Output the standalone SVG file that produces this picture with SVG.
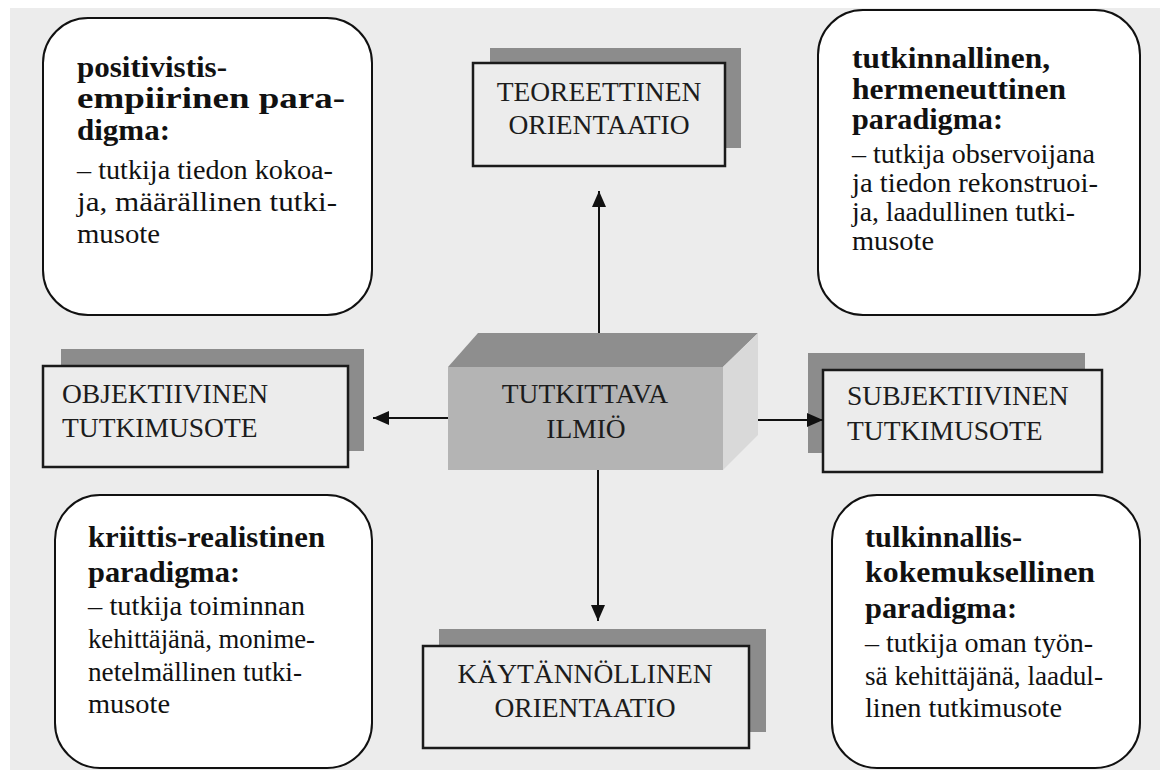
<svg xmlns="http://www.w3.org/2000/svg" width="1160" height="778" viewBox="0 0 1160 778">
<defs>
<marker id="ah" markerUnits="userSpaceOnUse" markerWidth="16" markerHeight="14" viewBox="0 0 16 14" refX="16" refY="7" orient="auto"><path d="M0,0 L16,7 L0,14 z" fill="#111"/></marker>
</defs>
<style>
.bg{fill:#ececec}
.para{fill:#fff;stroke:#111;stroke-width:2}
.shadow{fill:#8c8c8c}
.card{fill:#ececec;stroke:#1a1a1a;stroke-width:2.5}
.cap{font-family:'Liberation Serif','Times New Roman',serif;font-size:27.5px;fill:#1c1c1c}
.h{font-family:'Liberation Serif','Times New Roman',serif;font-weight:bold;font-size:29px;fill:#111}
.t{font-family:'Liberation Serif','Times New Roman',serif;font-size:27px;fill:#111}
.conn{stroke:#111;stroke-width:2;fill:none;marker-end:url(#ah)}
</style>
<rect x="0" y="0" width="1160" height="778" fill="#ffffff"/>
<rect class="bg" x="10" y="8" width="1150" height="762"/>

<g id="paradigm-positivist">
<rect class="para" x="43" y="18" width="329" height="297" rx="45"/>
<text class="h" x="77" y="77" textLength="150" lengthAdjust="spacingAndGlyphs">positivistis-</text>
<text class="h" x="77" y="108" textLength="268" lengthAdjust="spacingAndGlyphs">empiirinen para-</text>
<text class="h" x="77" y="140" textLength="93" lengthAdjust="spacingAndGlyphs">digma:</text>
<text class="t" x="77" y="179" textLength="256" lengthAdjust="spacingAndGlyphs">– tutkija tiedon kokoa-</text>
<text class="t" x="77" y="211" textLength="260" lengthAdjust="spacingAndGlyphs">ja, määrällinen tutki-</text>
<text class="t" x="77" y="243" textLength="83" lengthAdjust="spacingAndGlyphs">musote</text>
</g>

<g id="paradigm-hermeneutic">
<rect class="para" x="818" y="10" width="322" height="305" rx="45"/>
<text class="h" x="852" y="68" textLength="198" lengthAdjust="spacingAndGlyphs">tutkinnallinen,</text>
<text class="h" x="852" y="99" textLength="214" lengthAdjust="spacingAndGlyphs">hermeneuttinen</text>
<text class="h" x="852" y="129" textLength="151" lengthAdjust="spacingAndGlyphs">paradigma:</text>
<text class="t" x="852" y="163" textLength="243" lengthAdjust="spacingAndGlyphs">– tutkija observoijana</text>
<text class="t" x="852" y="192" textLength="246" lengthAdjust="spacingAndGlyphs">ja tiedon rekonstruoi-</text>
<text class="t" x="852" y="221" textLength="223" lengthAdjust="spacingAndGlyphs">ja, laadullinen tutki-</text>
<text class="t" x="852" y="250" textLength="82" lengthAdjust="spacingAndGlyphs">musote</text>
</g>

<g id="paradigm-critical">
<rect class="para" x="55" y="495" width="317" height="273" rx="45"/>
<text class="h" x="88" y="547" textLength="237" lengthAdjust="spacingAndGlyphs">kriittis-realistinen</text>
<text class="h" x="88" y="582" textLength="152" lengthAdjust="spacingAndGlyphs">paradigma:</text>
<text class="t" x="88" y="615" textLength="217" lengthAdjust="spacingAndGlyphs">– tutkija toiminnan</text>
<text class="t" x="88" y="648" textLength="227" lengthAdjust="spacingAndGlyphs">kehittäjänä, monime-</text>
<text class="t" x="88" y="681" textLength="214" lengthAdjust="spacingAndGlyphs">netelmällinen tutki-</text>
<text class="t" x="88" y="713" textLength="82" lengthAdjust="spacingAndGlyphs">musote</text>
</g>

<g id="paradigm-interpretive">
<rect class="para" x="832" y="495" width="308" height="273" rx="45"/>
<text class="h" x="865" y="547" textLength="157" lengthAdjust="spacingAndGlyphs">tulkinnallis-</text>
<text class="h" x="865" y="582" textLength="230" lengthAdjust="spacingAndGlyphs">kokemuksellinen</text>
<text class="h" x="865" y="618" textLength="152" lengthAdjust="spacingAndGlyphs">paradigma:</text>
<text class="t" x="865" y="652" textLength="228" lengthAdjust="spacingAndGlyphs">– tutkija oman työn-</text>
<text class="t" x="865" y="685" textLength="238" lengthAdjust="spacingAndGlyphs">sä kehittäjänä, laadul-</text>
<text class="t" x="865" y="717" textLength="197" lengthAdjust="spacingAndGlyphs">linen tutkimusote</text>
</g>

<g id="theoretical">
<rect class="shadow" x="490" y="48" width="251" height="100"/>
<rect class="card" x="473" y="63" width="252" height="103"/>
<text class="cap" x="599" y="101" text-anchor="middle">TEOREETTINEN</text>
<text class="cap" x="599" y="134" text-anchor="middle">ORIENTAATIO</text>
</g>

<g id="objective">
<rect class="shadow" x="61" y="349" width="303" height="102"/>
<rect class="card" x="43" y="366" width="305" height="101"/>
<text class="cap" x="62" y="403">OBJEKTIIVINEN</text>
<text class="cap" x="62" y="437">TUTKIMUSOTE</text>
</g>

<g id="subjective">
<rect class="shadow" x="808" y="353" width="277" height="100"/>
<rect class="card" x="823" y="370" width="279" height="102"/>
<text class="cap" x="847" y="405">SUBJEKTIIVINEN</text>
<text class="cap" x="847" y="440">TUTKIMUSOTE</text>
</g>

<g id="practical">
<rect class="shadow" x="439" y="629" width="327" height="103"/>
<rect class="card" x="423" y="646" width="326" height="102"/>
<text class="cap" x="585" y="683" text-anchor="middle">KÄYTÄNNÖLLINEN</text>
<text class="cap" x="585" y="717" text-anchor="middle">ORIENTAATIO</text>
</g>

<g id="phenomenon">
<polygon points="448,367 478,333 758,333 723,367" fill="#8e8e8e"/>
<polygon points="723,367 758,333 758,435 723,470" fill="#d9d9d9"/>
<rect x="448" y="367" width="275" height="103" fill="#b4b4b4"/>
<text class="cap" x="585" y="403" text-anchor="middle">TUTKITTAVA</text>
<text class="cap" x="586" y="438" text-anchor="middle">ILMIÖ</text>
</g>

<g id="connectors">
<path class="conn" d="M599,333 L599,191"/>
<path class="conn" d="M598,470 L598,621"/>
<path class="conn" d="M448,418 L373,418"/>
<path class="conn" d="M758,420 L823,420"/>
</g>
</svg>
